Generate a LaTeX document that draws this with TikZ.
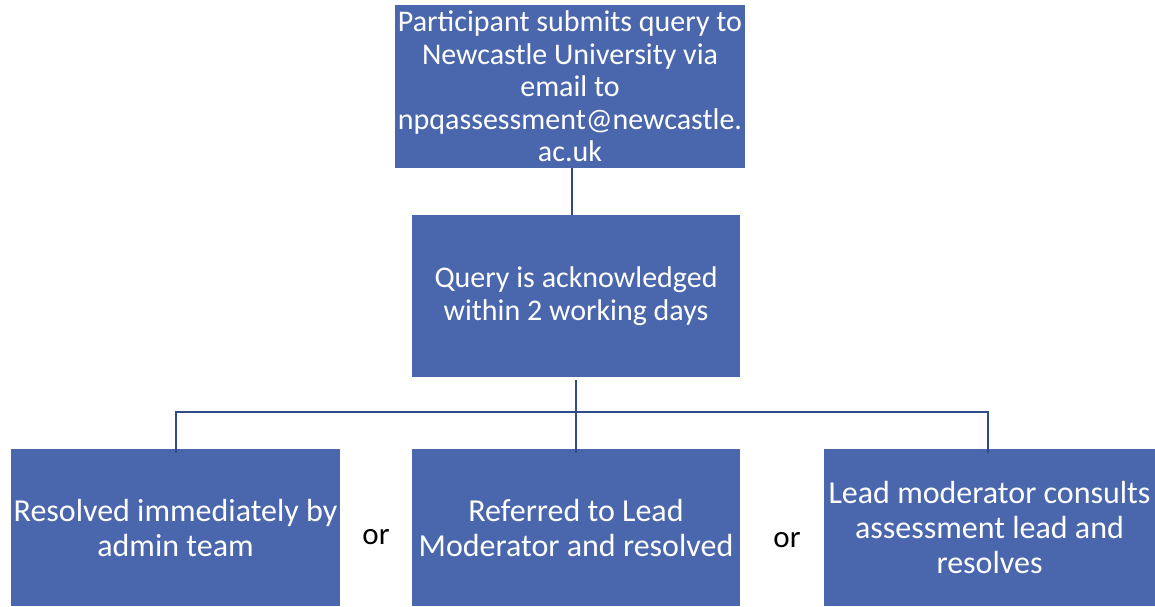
\documentclass[tikz,border=0pt]{standalone}
\usepackage{fontspec}
\setmainfont{Carlito}
\definecolor{boxblue}{HTML}{4A67AD}
\definecolor{linblue}{HTML}{2F4B8A}
\begin{document}
\begin{tikzpicture}[x=1pt,y=-1pt,
  box/.style={fill=boxblue,draw=none,inner sep=0pt,text=white,align=center,
    font=\fontsize{30}{32.5}\selectfont},
  lowbox/.style={box,font=\fontsize{32}{35}\selectfont},
  conn/.style={draw=linblue,line width=2pt},
  ortext/.style={font=\fontsize{31}{35}\selectfont,text=black}]
\useasboundingbox (0,0) rectangle (1155,606);
\node[box,minimum width=350,minimum height=163] (top) at (570,86.5)
  {Participant submits query to\\Newcastle University via\\email to\\npqassessment@newcastle.\\ac.uk};
\node[box,minimum width=328,minimum height=162] (mid) at (576,296)
  {Query is acknowledged\\within 2 working days};
\node[lowbox,minimum width=329,minimum height=157] (bl) at (175.5,527.5)
  {Resolved immediately by\\admin team};
\node[lowbox,minimum width=328,minimum height=157] (bm) at (576,527.5)
  {Referred to Lead\\Moderator and resolved};
\node[lowbox,minimum width=331,minimum height=157] (br) at (989.5,527.5)
  {Lead moderator consults\\assessment lead and\\resolves};
\node[ortext] (or1) at (376,537) {or};
\node[ortext] (or2) at (787,540) {or};
\coordinate (bar) at (576,412);
\draw[conn,line width=1.2pt] (top.south -| 572,0) -- (mid.north -| 572,0);
\draw[conn] (mid.south) ++(0,3) -- ([yshift=-4]bm.north);
\draw[conn] ([yshift=-4]bl.north) |- (bar) -| ([yshift=-4,xshift=-1.5]br.north);
\end{tikzpicture}
\end{document}
